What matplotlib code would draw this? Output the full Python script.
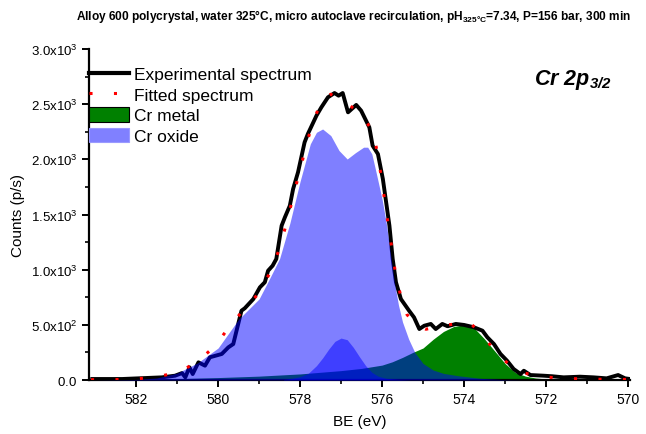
import matplotlib
matplotlib.use("Agg")
import matplotlib.pyplot as plt
from matplotlib.patches import Patch
from matplotlib.lines import Line2D

plt.rcParams['font.family'] = ['Liberation Sans', 'DejaVu Sans']
plt.rcParams['mathtext.fontset'] = 'custom'
plt.rcParams['mathtext.rm'] = 'Liberation Sans'
plt.rcParams['mathtext.bf'] = 'Liberation Sans:bold'
plt.rcParams['mathtext.it'] = 'Liberation Sans:italic'
plt.rcParams['mathtext.bfit'] = 'Liberation Sans:italic:bold'

# ---------------- data ----------------
exp_be = [583.07, 582.34, 581.37, 581.05, 580.88, 580.80, 580.70, 580.62, 580.48, 580.32,
          580.20, 579.91, 579.75, 579.63, 579.43, 579.35, 579.14, 578.98, 578.86, 578.78,
          578.67, 578.58, 578.45, 578.37, 578.25, 578.17, 578.05, 577.89, 577.81, 577.60,
          577.48, 577.32, 577.16, 577.06, 576.96, 576.83, 576.63, 576.51, 576.31, 576.23,
          576.10, 575.98, 575.90, 575.82, 575.74, 575.66, 575.54, 575.34, 575.22, 575.09,
          574.97, 574.81, 574.69, 574.53, 574.40, 574.20, 574.00, 573.76, 573.55, 573.43,
          573.27, 573.11, 572.95, 572.79, 572.62, 572.54, 572.38, 572.06, 571.85, 571.57,
          571.17, 570.84, 570.52, 570.24, 570.07, 569.95]
exp_counts = [9, 9, 24, 39, 63, 24, 115, 54, 160, 130,
              206, 236, 296, 326, 628, 650, 734, 840, 886, 991,
              1036, 1097, 1399, 1475, 1580, 1731, 1883, 2154, 2230, 2396,
              2472, 2562, 2601, 2577, 2601, 2426, 2493, 2441, 2290, 2124,
              2048, 1822, 1611, 1399, 1097, 886, 734, 628, 568, 462,
              492, 508, 462, 508, 487, 508, 499, 478, 447, 387,
              326, 236, 175, 100, 54, 84, 45, 39, 34, 24,
              30, 24, 15, 45, 15, 9]

fit_be = [583.10, 582.58, 582.02, 581.47, 580.92, 580.48, 580.09, 579.77, 579.43, 579.04,
          578.74, 578.53, 578.37, 578.23, 578.09, 577.95, 577.81, 577.64, 577.44, 577.25,
          577.04, 576.80, 576.53, 576.21, 576.10, 576.01, 575.93, 575.85, 575.76, 575.68,
          575.56, 575.39, 575.15, 574.93, 574.41, 573.86, 573.49, 573.15, 572.68, 572.12,
          571.57, 571.02, 570.47, 569.95]
fit_counts = [3, 3, 9, 30, 75, 175, 302, 460, 614, 773,
              967, 1163, 1369, 1571, 1776, 1979, 2184, 2381, 2556, 2590,
              2541, 2490, 2420, 2245, 2028, 1822, 1611, 1408, 1194, 985,
              786, 592, 495, 460, 499, 523, 378, 220, 75, 30,
              15, 9, 5, 5]

metal_be = [583.10, 582.0, 581.0, 580.0, 579.0, 578.0, 577.5, 577.0, 576.5, 576.0,
            575.75, 575.5, 575.25, 575.0, 574.75, 574.5, 574.25, 574.0, 573.75, 573.5,
            573.25, 573.0, 572.75, 572.5, 572.25, 572.0, 571.5, 571.0, 569.95]
metal_counts = [3, 6, 12, 22, 35, 55, 70, 85, 105, 135,
                165, 205, 250, 290, 370, 440, 485, 500, 470, 372,
                262, 150, 68, 35, 18, 10, 4, 2, 0]

oxide_be = [583.10, 582.5, 582.0, 581.5, 581.0, 580.5, 580.0, 579.5, 579.0, 578.75,
            578.5, 578.25, 578.0, 577.75, 577.6, 577.45, 577.25, 577.05, 576.85, 576.65,
            576.45, 576.35, 576.25, 576.15, 576.0, 575.9, 575.8, 575.7, 575.6, 575.5,
            575.35, 575.2, 575.0, 574.75, 574.5, 574.15, 573.6, 573.0, 572.5, 569.95]
oxide_counts = [0, 2, 5, 18, 62, 155, 290, 550, 735, 915,
                1100, 1420, 1800, 2140, 2245, 2275, 2215, 2080, 2003, 2060,
                2110, 2110, 2050, 1890, 1640, 1430, 1160, 890, 680, 525,
                370, 250, 150, 90, 60, 39, 15, 3, 0, 0]

small_be = [578.4, 578.2, 578.0, 577.8, 577.6, 577.45, 577.3, 577.15, 577.0, 576.85,
            576.7, 576.55, 576.4, 576.25, 576.1, 575.9, 575.6, 575.3]
small_counts = [5, 15, 30, 60, 130, 200, 280, 350, 380, 365,
                295, 210, 130, 70, 35, 15, 5, 0]

xticks = [582, 580, 578, 576, 574, 572, 570]
yticks = [0, 500, 1000, 1500, 2000, 2500, 3000]
ytick_labels = [r'$\mathregular{0.0}$', r'$\mathregular{5.0x10^{2}}$', r'$\mathregular{1.0x10^{3}}$',
                r'$\mathregular{1.5x10^{3}}$', r'$\mathregular{2.0x10^{3}}$',
                r'$\mathregular{2.5x10^{3}}$', r'$\mathregular{3.0x10^{3}}$']

# ---------------- figure ----------------
fig = plt.figure(figsize=(6.46, 4.35), dpi=100)
ax = fig.add_axes([89/646, 1 - 381/435, (630 - 89)/646, 331/435])

ax.fill_between(metal_be, 0, metal_counts, color='#008000', lw=0, zorder=1)
ax.plot(exp_be, exp_counts, color='black', lw=2.8, zorder=2, solid_joinstyle='round')
ax.fill_between(oxide_be, 0, oxide_counts, color='blue', alpha=0.5, lw=0, zorder=3)
ax.fill_between(small_be, 0, small_counts, color='blue', alpha=0.5, lw=0, zorder=4)
ax.plot(fit_be, fit_counts, color='red', lw=2.2, linestyle=(0, (1, 7)), zorder=5)

ax.set_xlim(583.15, 569.95)
ax.set_ylim(0, 3000)
ax.set_xticks(xticks)
ax.set_xticks([581, 579, 577, 575, 573, 571], minor=True)
ax.set_yticks(yticks)
ax.set_yticks([250, 750, 1250, 1750, 2250, 2750], minor=True)
ax.set_yticklabels(ytick_labels)

for s in ['top', 'right']:
    ax.spines[s].set_visible(False)
for s in ['left', 'bottom']:
    ax.spines[s].set_linewidth(1.6)
ax.tick_params(which='major', direction='out', length=5, width=1.4, labelsize=10)
ax.tick_params(which='minor', direction='out', length=3, width=1.2)
ax.tick_params(axis='y', labelsize=9.5)

ax.set_xlabel('BE (eV)', fontsize=11, labelpad=6)
ax.set_ylabel('Counts (p/s)', fontsize=11, labelpad=4)

fig.text(0.547, 0.962,
         r'Alloy 600 polycrystal, water 325°C, micro autoclave recirculation, pH$_{\mathbf{325°C}}$=7.34, P=156 bar, 300 min',
         ha='center', va='center', fontsize=8.6, fontweight='bold')

ax.text(0.895, 0.91, r'Cr 2p$_{\mathbfit{3/2}}$', transform=ax.transAxes,
        ha='center', va='center', fontsize=15.5, fontweight='bold', fontstyle='italic')

handles = [
    Line2D([], [], color='black', lw=3),
    Line2D([], [], color='red', lw=2.2, linestyle=(0, (1, 7))),
    Patch(facecolor='#008000', edgecolor='black', lw=0.8),
    Patch(facecolor='#8080FF', edgecolor='#9a9aff', lw=0.8),
]
labels = ['Experimental spectrum', 'Fitted spectrum', 'Cr metal', 'Cr oxide']
ax.legend(handles, labels, loc='upper left', bbox_to_anchor=(0.0, 0.948), frameon=False,
          fontsize=12.5, handlelength=2.3, handleheight=0.9, handletextpad=0.3,
          labelspacing=0.25, borderpad=0, borderaxespad=0)

fig.savefig('out.png', dpi=100)
